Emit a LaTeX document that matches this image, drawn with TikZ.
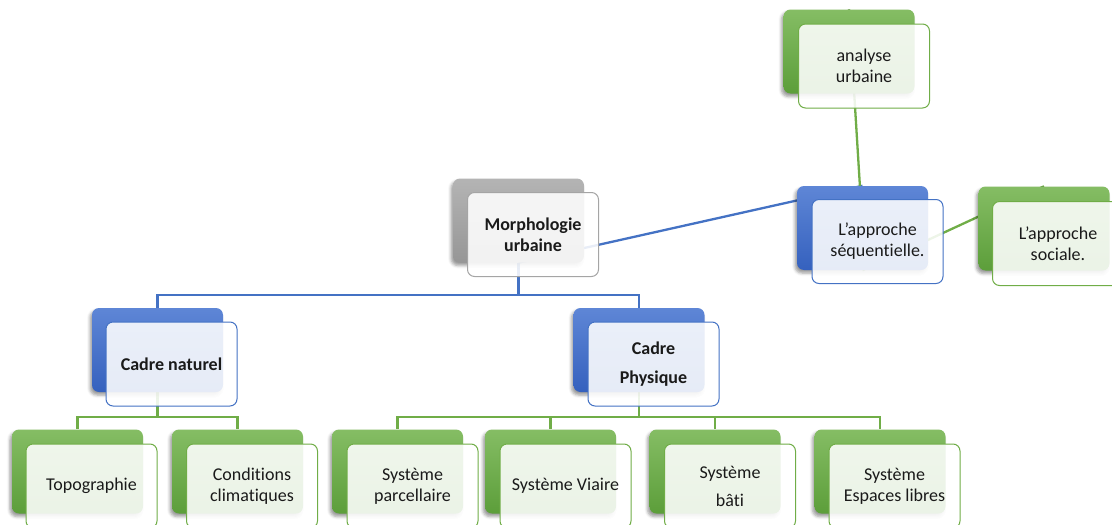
\documentclass[tikz,border=0pt]{standalone}
\usepackage{fontspec}
\setmainfont{Carlito}[RawFeature=-liga]
\usetikzlibrary{shadows.blur}
\pgfdeclarelayer{background}
\pgfsetlayers{background,main}
\definecolor{bluetop}{HTML}{5E86D6}
\definecolor{bluebot}{HTML}{3561BE}
\definecolor{greentop}{HTML}{85BD64}
\definecolor{greenbot}{HTML}{5C9E3A}
\definecolor{graytop}{HTML}{B4B4B4}
\definecolor{graybot}{HTML}{969696}
\definecolor{blueline}{HTML}{4472C4}
\definecolor{greenline}{HTML}{70AD47}
\definecolor{grayline}{HTML}{A5A5A5}
\definecolor{txt}{HTML}{1A1A1A}
\tikzset{
  backbox/.style={rounded corners=7pt, minimum width=131pt, minimum height=84pt, inner sep=0pt,
    blur shadow={shadow xshift=-2pt, shadow yshift=-3pt, shadow opacity=40, shadow blur radius=3pt}},
  bback/.style={backbox, top color=bluetop, bottom color=bluebot},
  gback/.style={backbox, top color=greentop, bottom color=greenbot},
  kback/.style={backbox, top color=graytop, bottom color=graybot},
  frontbox/.style={rounded corners=7pt, minimum width=131pt, minimum height=84pt, inner sep=2pt,
    fill=white, fill opacity=0.88, text opacity=1, line width=1pt, align=center, text=txt,
    font=\fontsize{18}{21}\selectfont},
  bfront/.style={frontbox, draw=blueline},
  gfront/.style={frontbox, draw=greenline},
  kfront/.style={frontbox, draw=grayline},
  bconn/.style={draw=blueline, line width=2.3pt},
  gconn/.style={draw=greenline, line width=2.3pt},
}
\begin{document}
\begin{tikzpicture}[x=1pt,y=-1pt]
\useasboundingbox (0,0) rectangle (1112,525);
% top level
\node[kback] (mb) at (518.5,220.5) {};
\node[kfront] (mf) at (533,234.5) {\textbf{Morphologie}\\\textbf{urbaine}};
\node[gback] (aub) at (849,51.5) {};
\node[gfront] (auf) at (864,66) {analyse\\urbaine};
\node[bback] (sb) at (862.5,228) {};
\node[bfront] (sf) at (877.5,241.5) {L’approche\\séquentielle.};
\node[gback] (socb) at (1044,228.5) {};
\node[gfront] (socf) at (1058,243.5) {L’approche\\sociale.};
% second level
\node[bback] (cnb) at (157.5,350) {};
\node[bfront] (cnf) at (171.5,364) {\textbf{Cadre naturel}};
\node[bback] (cpb) at (639,350) {};
\node[bfront] (cpf) at (653.5,364) {\textbf{Cadre}\\[8pt]\textbf{Physique}};
% third level
\node[gback] (tb) at (77.5,471.5) {};
\node[gfront] (tf) at (91.5,486) {Topographie};
\node[gback] (ccb) at (237.5,471.5) {};
\node[gfront] (ccf) at (252,486) {Conditions\\climatiques};
\node[gback] (spb) at (397.5,471.5) {};
\node[gfront] (spf) at (412.5,486) {Système\\parcellaire};
\node[gback] (svb) at (550.5,471.5) {};
\node[gfront] (svf) at (565.5,486) {Système Viaire};
\node[gback] (sbb) at (715,471.5) {};
\node[gfront] (sbf) at (730,486) {Système\\[7pt]bâti};
\node[gback] (seb) at (880,471.5) {};
\node[gfront] (sef) at (894.5,486) {Système\\Espaces libres};
% connectors
\begin{pgfonlayer}{background}
  \coordinate (bus1) at (518.5,295);
  \draw[bconn] (mb.south) -- (bus1);
  \draw[bconn] (bus1) -| (cnb.north);
  \draw[bconn] (bus1) -| (cpb.north);
  \draw[bconn] (mb.south) -- (sb.north);
  \draw[gconn] (aub.north) -- (sb.center);
  \draw[gconn] (sb.south) -- (socb.north);
  \coordinate (bus2) at (157.5,417);
  \draw[gconn] (cnb.south) -- (bus2);
  \draw[gconn] (bus2) -| (tb.north);
  \draw[gconn] (bus2) -| (ccb.north);
  \coordinate (bus3) at (639,417);
  \draw[gconn] (cpb.south) -- (bus3);
  \draw[gconn] (bus3) -| (spb.north);
  \draw[gconn] (bus3) -| (svb.north);
  \draw[gconn] (bus3) -| (sbb.north);
  \draw[gconn] (bus3) -| (seb.north);
\end{pgfonlayer}
\end{tikzpicture}
\end{document}
